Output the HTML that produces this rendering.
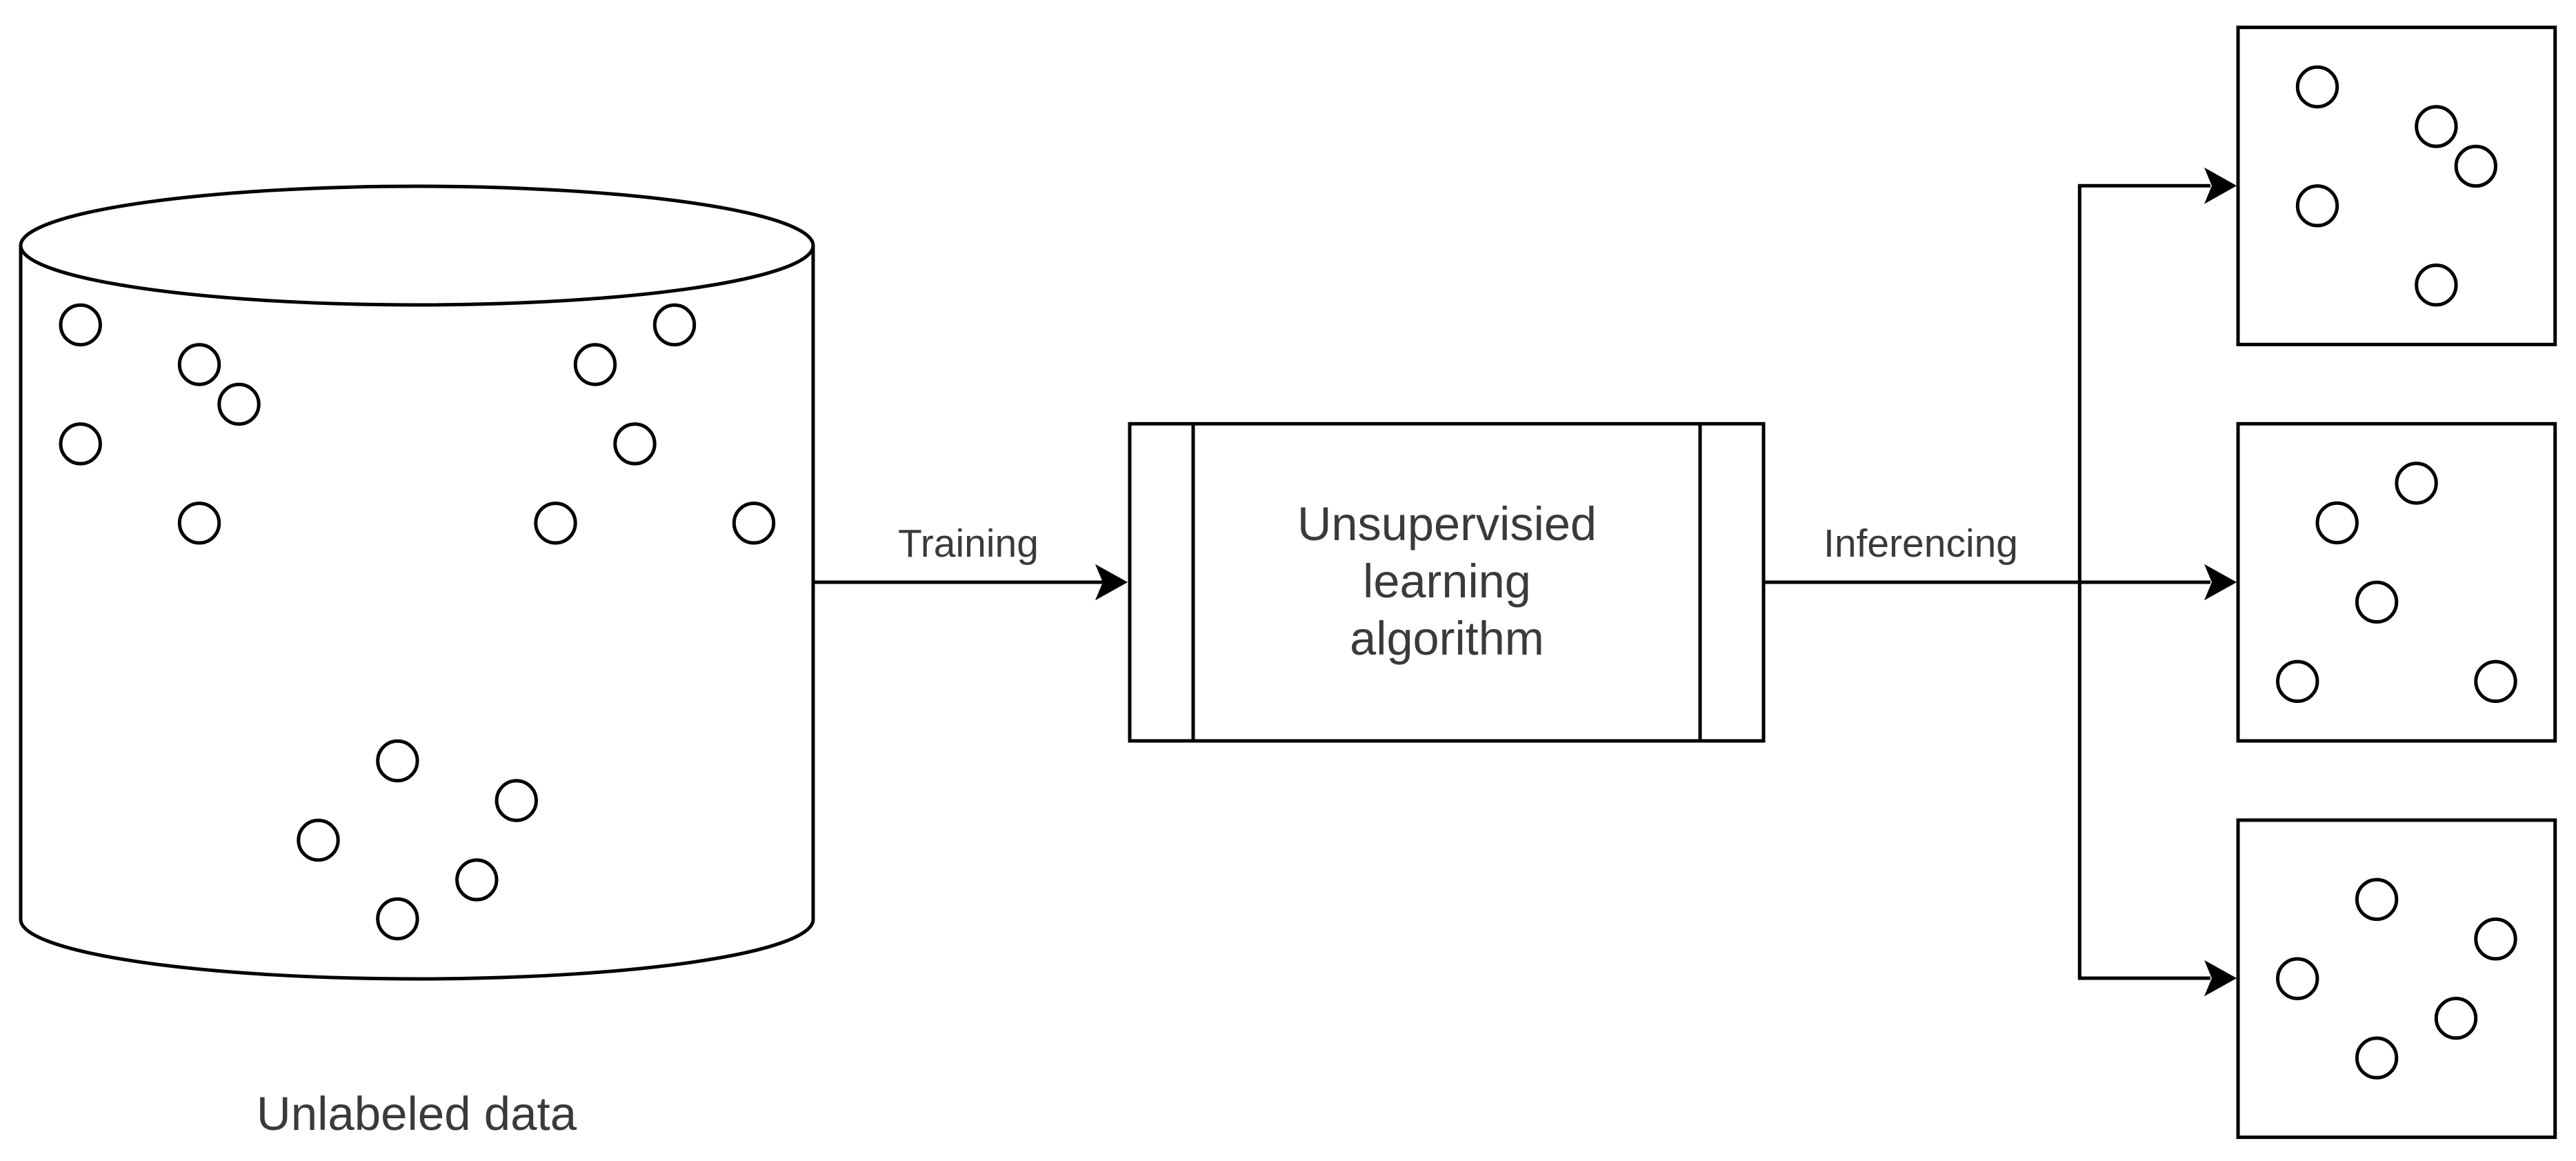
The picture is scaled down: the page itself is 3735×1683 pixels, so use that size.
<!DOCTYPE html>
<html>
<head>
<meta charset="utf-8">
<style>
html,body{margin:0;padding:0;background:#fff;width:3735px;height:1683px;overflow:hidden}
svg{display:block}
text{font-family:"Liberation Sans",Arial,sans-serif;fill:#3a3a3a;text-anchor:middle}
.s{fill:none;stroke:#000;stroke-width:5}
.c{fill:#fff;stroke:#000;stroke-width:5}
.a{fill:#000;stroke:#000;stroke-width:2}
</style>
</head>
<body>
<svg width="3735" height="1683" viewBox="0 0 3735 1683" xmlns="http://www.w3.org/2000/svg">
<rect width="3735" height="1683" fill="#fff"/>
<!-- cylinder -->
<path class="s" d="M30 356 A574.500 86 0 0 1 1179 356 L1179 1333 A574.500 86 0 0 1 30 1333 Z"/>
<path class="s" d="M30 356 A574.500 86 0 0 0 1179 356"/>
<!-- cylinder circles -->
<g class="c">
<circle cx="116.700" cy="471" r="28.700"/>
<circle cx="289" cy="528.500" r="28.700"/>
<circle cx="346.500" cy="586" r="28.700"/>
<circle cx="116.700" cy="643.400" r="28.700"/>
<circle cx="289" cy="758.300" r="28.700"/>
<circle cx="978" cy="471" r="28.700"/>
<circle cx="863" cy="528.500" r="28.700"/>
<circle cx="920.500" cy="643.400" r="28.700"/>
<circle cx="805.500" cy="758.300" r="28.700"/>
<circle cx="1093" cy="758.300" r="28.700"/>
<circle cx="576.400" cy="1103" r="28.700"/>
<circle cx="748.800" cy="1160.500" r="28.700"/>
<circle cx="461.500" cy="1218" r="28.700"/>
<circle cx="691.300" cy="1275.400" r="28.700"/>
<circle cx="576.400" cy="1332" r="28.700"/>
</g>
<text x="604" y="1638" font-size="69">Unlabeled data</text>
<!-- process -->
<rect class="s" x="1638" y="614.300" width="919" height="459.700"/>
<path class="s" d="M1730 614.300 V1074 M2465 614.300 V1074"/>
<text x="2098" y="783" font-size="68.500">Unsupervisied</text>
<text x="2098" y="866" font-size="68.500">learning</text>
<text x="2098" y="949" font-size="68.500">algorithm</text>
<!-- training arrow -->
<path class="s" d="M1179 844 H1600"/>
<path class="a" d="M1633 844 L1590 820 L1600 844 L1590 868 Z"/>
<text x="1404" y="807" font-size="57">Training</text>
<!-- inferencing arrows -->
<path class="s" d="M2557 844 H3205"/>
<path class="s" d="M3205 269.300 H3015.300 V1418 H3205"/>
<path class="a" d="M3241 269.300 L3198 245 L3208 269.300 L3198 293.500 Z"/>
<path class="a" d="M3241 844 L3198 820 L3208 844 L3198 868 Z"/>
<path class="a" d="M3241 1418 L3198 1394 L3208 1418 L3198 1442 Z"/>
<text x="2785" y="807" font-size="57">Inferencing</text>
<!-- top box -->
<rect class="s" x="3245" y="39.700" width="459.700" height="459.700"/>
<g class="c">
<circle cx="3360" cy="126" r="28.700"/>
<circle cx="3532.400" cy="183.400" r="28.700"/>
<circle cx="3589.800" cy="240.900" r="28.700"/>
<circle cx="3360" cy="298.300" r="28.700"/>
<circle cx="3532.400" cy="413.200" r="28.700"/>
</g>
<!-- middle box -->
<rect class="s" x="3245" y="614.300" width="459.700" height="459.700"/>
<g class="c">
<circle cx="3503.600" cy="700.500" r="28.700"/>
<circle cx="3388.700" cy="757.900" r="28.700"/>
<circle cx="3446.100" cy="872.800" r="28.700"/>
<circle cx="3331.200" cy="987.800" r="28.700"/>
<circle cx="3618.500" cy="987.800" r="28.700"/>
</g>
<!-- bottom box -->
<rect class="s" x="3245" y="1188.900" width="459.700" height="459.700"/>
<g class="c">
<circle cx="3446.100" cy="1303.800" r="28.700"/>
<circle cx="3618.500" cy="1361.200" r="28.700"/>
<circle cx="3331.200" cy="1418.700" r="28.700"/>
<circle cx="3561" cy="1476.100" r="28.700"/>
<circle cx="3446.100" cy="1533.600" r="28.700"/>
</g>
</svg>
</body>
</html>
